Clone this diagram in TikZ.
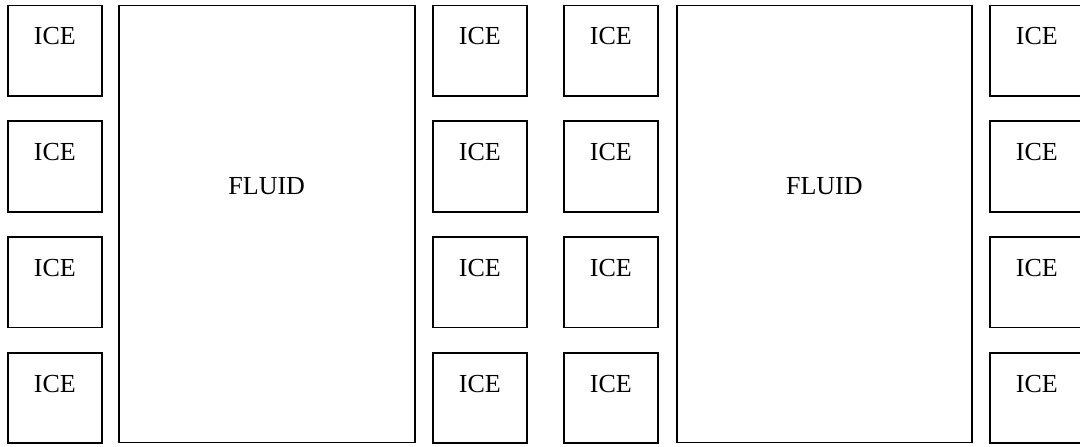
\documentclass[tikz,border=0pt]{standalone}
\usepackage{fontspec}
\setmainfont{Liberation Serif}
\begin{document}
\begin{tikzpicture}[x=1pt,y=-1pt,
  icebox/.style={draw=black,line width=1.8pt,rectangle,inner sep=0pt,outer sep=0pt,
    minimum width=93.7pt,minimum height=90.5pt},
  fluidbox/.style={draw=black,line width=1.8pt,rectangle,inner sep=0pt,outer sep=0pt,
    minimum width=296pt,minimum height=437pt},
  lbl/.style={inner sep=0pt,anchor=base,font=\fontsize{26}{30}\selectfont}]
\useasboundingbox (0,0) rectangle (1080,447);
\clip (0,0) rectangle (1080,447);
% ice boxes
\foreach \c/\x in {1/54.85,2/479.85,3/610.85,4/1036.85}{
  \foreach \r/\y in {1/50.75,2/166.45,3/282.15,4/397.85}{
    \node[icebox] (ice\c\r) at (\x,\y) {};
    \node[lbl] (icet\c\r) at ([yshift=-39.5pt]ice\c\r.north) {ICE};
  }
}
% fluid boxes
\node[fluidbox] (fluid1) at (266.75,224) {};
\node[lbl] (fluidt1) at (266.75,194.3) {FLUID};
\node[fluidbox,minimum width=295.3pt] (fluid2) at (824.35,224) {};
\node[lbl] (fluidt2) at (824.35,194.3) {FLUID};
\end{tikzpicture}
\end{document}
